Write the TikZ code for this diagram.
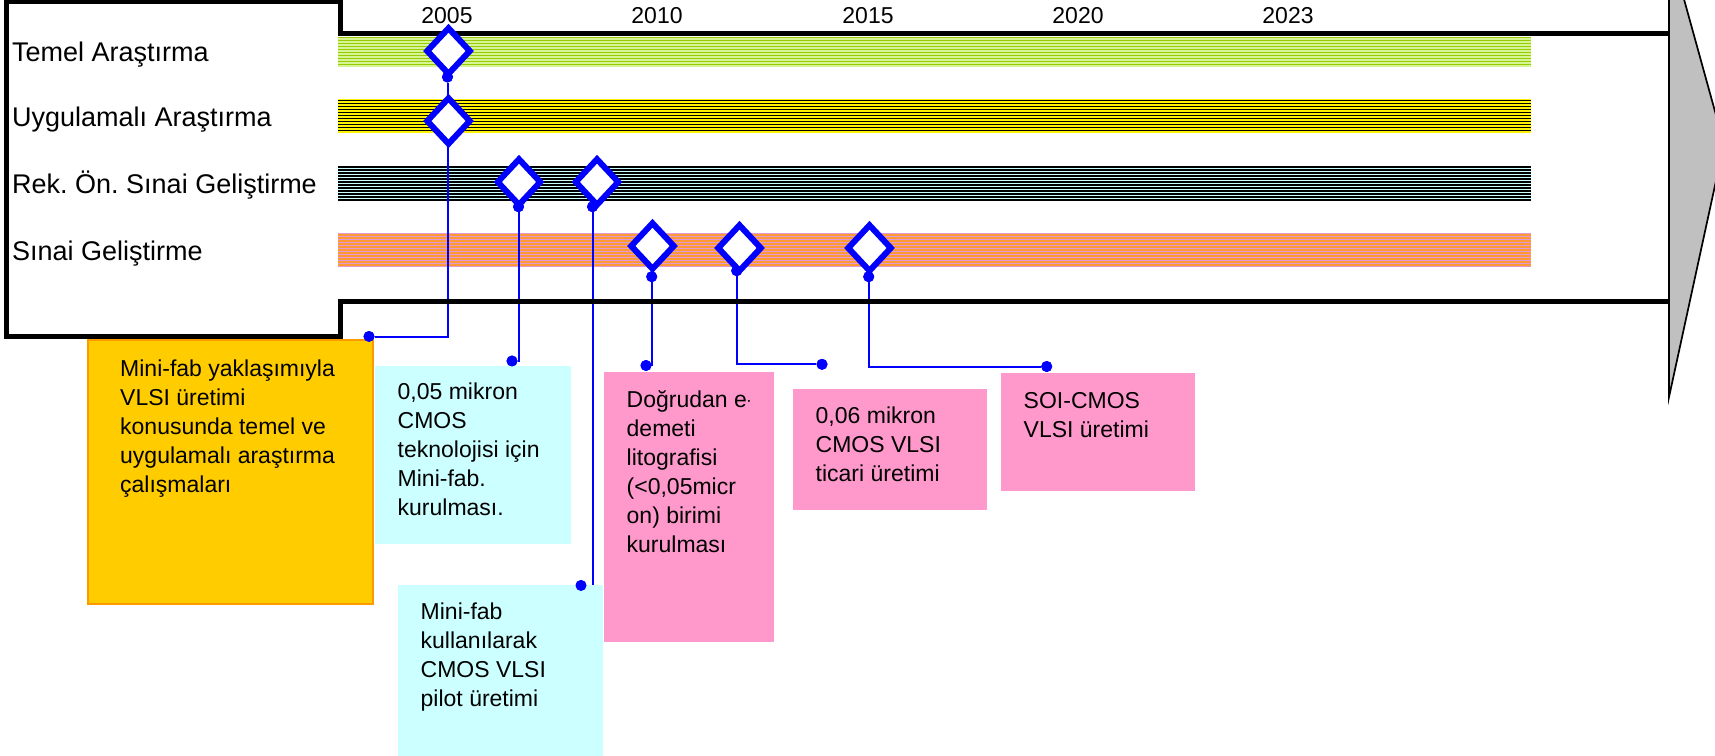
\documentclass[tikz,border=0pt]{standalone}
\usepackage{fontspec}
\setmainfont{Liberation Sans}
\usetikzlibrary{shapes.geometric}

\definecolor{msblue}{RGB}{0,0,255}
\definecolor{limefg}{RGB}{153,204,0}
\definecolor{limebg}{RGB}{214,245,150}
\definecolor{lanecyan}{RGB}{204,255,255}
\definecolor{laneorange}{RGB}{255,153,51}
\definecolor{lanelilac}{RGB}{226,154,214}
\definecolor{boxorange}{RGB}{255,204,0}
\definecolor{boxedge}{RGB}{255,153,0}
\definecolor{boxcyan}{RGB}{204,255,255}
\definecolor{boxpink}{RGB}{255,153,204}
\definecolor{headgrey}{RGB}{192,192,192}

\newcommand{\notetext}[1]{\parbox[t]{400pt}{\raggedright\fontsize{23}{29}\selectfont #1}}

\begin{document}
\frenchspacing
\begin{tikzpicture}[x=1pt, y=-1pt,
  frame/.style={line width=5pt, line join=miter},
  milestone/.style={shape=diamond, draw=msblue, fill=white, line width=6pt,
    line join=miter, inner sep=0pt, minimum width=45pt, minimum height=48pt},
  dotn/.style={circle, fill=msblue, inner sep=0pt, minimum size=11pt},
  conn/.style={draw=msblue, line width=2pt},
  lanelabel/.style={font=\fontsize{27}{32}\selectfont, anchor=base west, inner sep=0pt},
  yearlabel/.style={font=\fontsize{23}{28}\selectfont, anchor=base, inner sep=0pt},
  notebox/.style={anchor=north west, inner sep=0pt, outer sep=0pt},
  notetxt/.style={anchor=base west, inner sep=0pt},
]
\useasboundingbox (0,0) rectangle (1715,755);
\clip (0,0) rectangle (1715,755);
\fill[white] (0,0) rectangle (1715,755);

% striped lanes
\fill[limebg] (338,36.5) rectangle (1531,67);
\foreach \yy in {37.25,40.25,...,67} \draw[limefg, line width=1.5pt] (338,\yy) -- (1531,\yy);
\fill[yellow] (338,99) rectangle (1531,133);
\foreach \yy in {100.5,103.5,...,132} \draw[black, line width=1.6pt] (338,\yy) -- (1531,\yy);
\fill[lanecyan] (338,166) rectangle (1531,200);
\foreach \yy in {166.75,169.75,...,200} \draw[black, line width=1.5pt] (338,\yy) -- (1531,\yy);
\fill[lanelilac] (338,233) rectangle (1531,267);
\foreach \yy in {234.6,237.6,...,267} \draw[laneorange, line width=1.9pt] (338,\yy) -- (1531,\yy);

% milestone and connector end points
\node[dotn] (a1) at (447.5,77) {};
\node[dotn] (a2) at (518.5,206.7) {};
\node[dotn] (a3) at (592.5,206.7) {};
\node[dotn] (a4) at (651.7,276.7) {};
\node[dotn] (a5) at (736.7,270.7) {};
\node[dotn] (a6) at (868.7,276.7) {};
\node[dotn] (e1) at (369,336.5) {};
\node[dotn] (e2) at (512,361) {};
\node[dotn] (e3) at (581,585.5) {};
\node[dotn] (e4) at (646,365.5) {};
\node[dotn] (e5) at (822,364.3) {};
\node[dotn] (e6) at (1046.7,366.5) {};

% connectors
\draw[conn] (a1) |- (e1);
\draw[conn] (a2) |- (e2);
\draw[conn] (a3) |- (e3);
\draw[conn] (a4) |- (e4);
\draw[conn] (a5) |- (e5);
\draw[conn] (a6) |- (e6);

% time band and label panel outline
\draw[frame] (1669,33) -- (340,33) -- (340,1.5) -- (6.5,1.5) -- (6.5,336.5)
  -- (340,336.5) -- (340,301.5) -- (1669,301.5);

% note boxes
\node[notebox, fill=boxorange, draw=boxedge, line width=2pt, minimum width=285pt, minimum height=264pt] (b1) at (87.7,340) {};
\node[notebox, fill=boxcyan, minimum width=196pt, minimum height=178pt] (b2) at (375,366) {};
\node[notebox, fill=boxcyan, minimum width=205pt, minimum height=180pt] (b3) at (398,585) {};
\node[notebox, fill=boxpink, minimum width=170pt, minimum height=270pt] (b4) at (604,372) {};
\node[notebox, fill=boxpink, minimum width=194pt, minimum height=121pt] (b5) at (793,389) {};
\node[notebox, fill=boxpink, minimum width=194pt, minimum height=118pt] (b6) at (1001,373) {};

\node[notetxt] (t1) at (120,376) {\notetext{Mini-fab yaklaşımıyla\\VLSI üretimi\\konusunda temel ve\\uygulamalı araştırma\\çalışmaları}};
\node[notetxt] (t2) at (397.5,399) {\notetext{0,05 mikron\\CMOS\\teknolojisi için\\Mini-fab.\\kurulması.}};
\node[notetxt] (t3) at (420.5,619) {\notetext{Mini-fab\\kullanılarak\\CMOS VLSI\\pilot üretimi}};
\node[notetxt] (t4) at (626.5,407) {\notetext{Doğrudan e\kern1pt\scalebox{0.3}[1]{-}\\demeti\\litografisi\\(<0,05micr\\on) birimi\\kurulması}};
\node[notetxt] (t5) at (815.5,423) {\notetext{0,06 mikron\\CMOS VLSI\\ticari üretimi}};
\node[notetxt] (t6) at (1023.5,408) {\notetext{SOI-CMOS\\VLSI üretimi}};

% milestones
\node[milestone] (d1) at (448.5,51) {};
\node[milestone] (d2) at (448.5,121) {};
\node[milestone] (d3) at (519,182) {};
\node[milestone] (d4) at (597,182) {};
\node[milestone] (d5) at (652.5,246) {};
\node[milestone] (d6) at (739.5,248) {};
\node[milestone] (d7) at (869.5,248) {};

% dots stay on top of the milestones
\foreach \p in {a1,a2,a3,a4,a5,a6,e1,e2,e3,e4,e5,e6}
  \fill[msblue] (\p) circle (5.5pt);

% lane labels
\node[lanelabel] (l1) at (12,61) {Temel Araştırma};
\node[lanelabel] (l2) at (12,126) {Uygulamalı Araştırma};
\node[lanelabel] (l3) at (12,193) {Rek. Ön. Sınai Geliştirme};
\node[lanelabel] (l4) at (12,260) {Sınai Geliştirme};

% years
\node[yearlabel] (y1) at (447,23.3) {2005};
\node[yearlabel] (y2) at (657,23.3) {2010};
\node[yearlabel] (y3) at (868,23.3) {2015};
\node[yearlabel] (y4) at (1078,23.3) {2020};
\node[yearlabel] (y5) at (1288,23.3) {2023};

% arrow head
\filldraw[fill=headgrey, draw=black, line width=1.7pt, line join=miter]
  (1669,-55) -- (1724,144) -- (1669,397) -- cycle;
\end{tikzpicture}
\end{document}
